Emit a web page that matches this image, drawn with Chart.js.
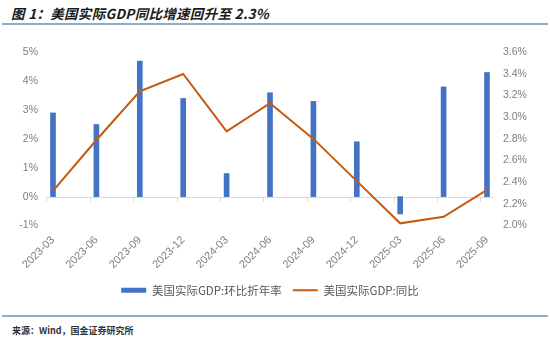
<!DOCTYPE html>
<html><head><meta charset="utf-8">
<script src="https://cdn.jsdelivr.net/npm/chart.js@4/dist/chart.umd.min.js"></script>
<style>
html,body{margin:0;padding:0;background:#fff;width:550px;height:338px;overflow:hidden;}
#title{position:absolute;left:11px;top:4px;font:italic bold 13.5px "Noto Sans CJK SC";color:#1a1a1a;white-space:nowrap;line-height:18px;letter-spacing:0.3px;}
.rule{position:absolute;left:2px;width:546px;height:2px;background:#8eacc6;}
#wrap{position:absolute;left:0;top:30px;width:550px;height:276px;}
#src{position:absolute;left:12px;top:324px;font:bold 9px "Noto Sans CJK SC";color:#333;white-space:nowrap;line-height:13px;}
</style></head>
<body>
<div id="title">图 1：美国实际GDP同比增速回升至 2.3%</div>
<div class="rule" style="top:23px"></div>
<div class="rule" style="top:315px"></div>
<div id="src">来源：Wind，国金证券研究所</div>
<div id="wrap"><canvas id="c" width="550" height="276"></canvas></div>
<script>
const categories = ['2023-03','2023-06','2023-09','2023-12','2024-03','2024-06','2024-09','2024-12','2025-03','2025-06','2025-09'];
const qoqAnnualized = [2.9, 2.5, 4.7, 3.4, 0.8, 3.6, 3.3, 1.9, -0.6, 3.8, 4.3];
const yoy = [2.32, 2.79, 3.24, 3.40, 2.87, 3.13, 2.80, 2.41, 2.02, 2.08, 2.33];
const seriesNames = ['美国实际GDP:环比折年率', '美国实际GDP:同比'];
const leftTicks = {min: -1, max: 5, step: 1};
const rightTicks = {min: 2.0, max: 3.6, step: 0.2};

const BLUE = '#4472C4', ORANGE = '#C55A11', GRAY = '#7f7f7f';
const tickFont = {family: '"Liberation Sans", Arial, sans-serif', size: 10.5};

const axisLine = {
  id: 'axisLine',
  beforeDatasetsDraw(chart) {
    const {ctx, scales: {x, y}} = chart;
    const y0 = Math.round(y.getPixelForValue(0)) + 0.5;
    const step = x.getPixelForValue(1) - x.getPixelForValue(0);
    const n = categories.length;
    const l = x.getPixelForValue(0) - step * 0.15;
    const r = x.getPixelForValue(n - 1) + step * 0.15;
    ctx.save();
    ctx.strokeStyle = '#d9d9d9';
    ctx.lineWidth = 1;
    ctx.beginPath();
    ctx.moveTo(l, y0); ctx.lineTo(r, y0);
    for (let i = 0; i < n; i++) {
      const tx = Math.round(x.getPixelForValue(i) - step * 0.15) + 0.5;
      ctx.moveTo(tx, y0); ctx.lineTo(tx, y0 + 4);
    }
    ctx.stroke();
    ctx.restore();
  }
};

new Chart(document.getElementById('c'), {
  data: {
    labels: categories,
    datasets: [
      {type: 'line', label: seriesNames[1], data: yoy, yAxisID: 'y1', borderColor: ORANGE, backgroundColor: ORANGE,
       borderWidth: 2, pointRadius: 0, tension: 0, order: 0},
      {type: 'bar', label: seriesNames[0], data: qoqAnnualized, yAxisID: 'y', backgroundColor: BLUE,
       barThickness: 5, clip: false, order: 1}
    ]
  },
  options: {
    responsive: false,
    animation: false,
    layout: {padding: {top: 18, left: 0, right: 0, bottom: 0}},
    plugins: {
      tooltip: {enabled: false},
      legend: {
        position: 'bottom',
        fullSize: false,
        reverse: true,
        labels: {
          usePointStyle: true,
          pointStyleWidth: 25,
          boxHeight: 5,
          padding: 11,
          color: '#595959',
          font: {family: '"Noto Sans CJK SC", sans-serif', size: 11.5},
          generateLabels(chart) {
            const items = Chart.defaults.plugins.legend.labels.generateLabels(chart);
            items.forEach(it => {
              const ds = chart.data.datasets[it.datasetIndex];
              if (ds.type === 'bar') { it.pointStyle = 'rect'; it.fillStyle = BLUE; it.strokeStyle = BLUE; it.lineWidth = 0; }
              else { it.pointStyle = 'line'; it.strokeStyle = ORANGE; it.lineWidth = 2; }
            });
            return items;
          }
        }
      }
    },
    scales: {
      x: {
        offset: false,
        grid: {display: false, drawTicks: false},
        border: {display: false},
        ticks: {autoSkip: false, minRotation: 45, maxRotation: 45, color: GRAY, font: {family: tickFont.family, size: 11}, padding: 8},
        afterFit(s) { s.height = 48; }
      },
      y: {
        position: 'left',
        min: leftTicks.min, max: leftTicks.max,
        grid: {display: false, drawTicks: false},
        border: {display: false},
        ticks: {stepSize: leftTicks.step, color: GRAY, font: tickFont, padding: 15, callback: v => v + '%'},
        afterFit(s) { s.width = 53; }
      },
      y1: {
        position: 'right',
        min: rightTicks.min, max: rightTicks.max,
        grid: {display: false, drawTicks: false},
        border: {display: false},
        ticks: {stepSize: rightTicks.step, color: GRAY, font: tickFont, padding: 16, callback: v => Number(v).toFixed(1) + '%'},
        afterFit(s) { s.width = 63; }
      }
    }
  },
  plugins: [axisLine]
});
</script>
</body></html>
